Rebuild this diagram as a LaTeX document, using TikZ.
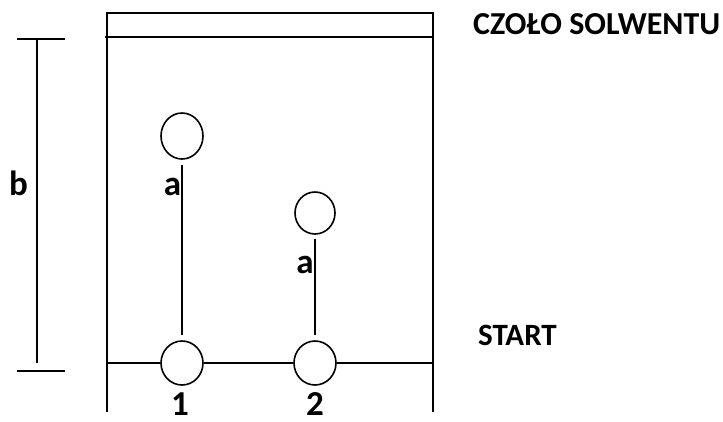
\documentclass[tikz,border=0pt]{standalone}
\usepackage{fontspec}
\setmainfont{Carlito}
\usetikzlibrary{shapes.geometric}
\begin{document}
\begin{tikzpicture}[x=1pt,y=-1pt,
  ln/.style={line width=1.6pt},
  spot/.style={ellipse,draw,line width=1.6pt,fill=white,inner sep=0pt,minimum width=42pt,minimum height=44pt},
  big/.style={font=\bfseries\fontsize{35}{40}\selectfont,inner sep=0pt,anchor=base},
  lab/.style={font=\bfseries\fontsize{32}{36}\selectfont,inner sep=0pt,anchor=base west}]
\useasboundingbox (0,0) rectangle (723,421);
% plate
\coordinate (tl) at (107,13);
\coordinate (tr) at (433,13);
\coordinate (bl) at (107,412);
\coordinate (br) at (433,412);
\coordinate (fl) at (105,37);
\coordinate (fr) at (433,37);
\coordinate (sl) at (107,363);
\coordinate (sr) at (433,363);
\draw[ln] (bl) -- (tl) -- (tr) -- (br);
\draw[ln] (fl) -- (fr);
% spots
\node[spot] (b1) at (182,363) {};
\node[spot] (b2) at (315,363) {};
\node[spot,minimum height=46pt] (t1) at (182,136) {};
\node[spot,minimum width=40pt,minimum height=42pt] (t2) at (315,213) {};
\draw[ln] (sl) -- (b1.west);
\draw[ln] (b1.east) -- (b2.west);
\draw[ln] (b2.east) -- (sr);
\draw[ln,shorten <=5pt,shorten >=5pt] (t1.south) -- (b1.north);
\draw[ln,shorten <=4pt,shorten >=5pt] (t2.south) -- (b2.north);
% dimension b
\coordinate (dt) at (37,39);
\coordinate (db) at (37,363);
\coordinate (dtl) at (17,39);
\coordinate (dtr) at (65,39);
\coordinate (dbl) at (17,371);
\coordinate (dbr) at (65,371);
\draw[ln] (dt) -- (db);
\draw[ln] (dtl) -- (dtr);
\draw[ln] (dbl) -- (dbr);
% labels
\node[big] (lb) at (18.5,195) {b};
\node[big] (la1) at (172.5,195) {a};
\node[big] (la2) at (305,273) {a};
\node[big] (n1) at (180,415) {1};
\node[big] (n2) at (315,415) {2};
\node[lab] (czolo) at (473,34) {CZOŁO SOLWENTU};
\node[lab,font=\bfseries\fontsize{31}{36}\selectfont] (start) at (478,345) {START};
\end{tikzpicture}
\end{document}
